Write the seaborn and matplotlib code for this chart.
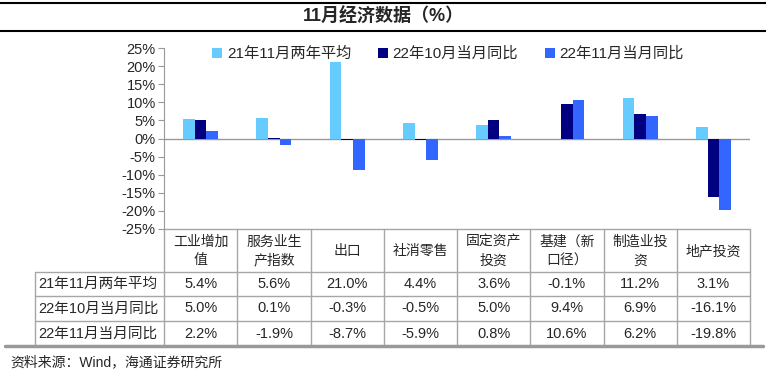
import numpy as np
import pandas as pd
import matplotlib
matplotlib.use("Agg")
import matplotlib.pyplot as plt
import seaborn as sns
from matplotlib.ticker import FuncFormatter, MultipleLocator

# data
categories = ["工业增加值", "服务业生产指数", "出口", "社消零售", "固定资产投资",
              "基建（新口径）", "制造业投资", "地产投资"]
header_labels = ["工业增加\n值", "服务业生\n产指数", "出口", "社消零售", "固定资产\n投资",
                 "基建（新\n口径）", "制造业投\n资", "地产投资"]
series_names = ["21年11月两年平均", "22年10月当月同比", "22年11月当月同比"]
avg_2y_2111 = [5.4, 5.6, 21.0, 4.4, 3.6, -0.1, 11.2, 3.1]
yoy_2210 = [5.0, 0.1, -0.3, -0.5, 5.0, 9.4, 6.9, -16.1]
yoy_2211 = [2.2, -1.9, -8.7, -5.9, 0.8, 10.6, 6.2, -19.8]
colors = ["#66CCFF", "#000080", "#3366FF"]

series_values = [avg_2y_2111, yoy_2210, yoy_2211]
df = pd.DataFrame({
    "cat": categories * 3,
    "series": [s for s in series_names for _ in categories],
    "value": avg_2y_2111 + yoy_2210 + yoy_2211,
})

sns.set_style("white")
plt.rcParams["font.family"] = ["Liberation Sans", "Noto Sans CJK SC"]

W, H = 766, 373
fig = plt.figure(figsize=(W / 100, H / 100), dpi=100)


def px(x0, y0, x1, y1):
    return [x0 / W, 1 - y1 / H, (x1 - x0) / W, (y1 - y0) / H]


# overlay for title, table and source text (pixel coordinates)
tab = fig.add_axes([0, 0, 1, 1])
tab.set_xlim(0, W)
tab.set_ylim(H, 0)
tab.axis("off")

ax = fig.add_axes(px(164, 48, 750, 229))
sns.barplot(data=df, x="cat", y="value", hue="series", palette=colors,
            width=0.48, saturation=1, linewidth=0, ax=ax)
ax.set_xlim(-0.5, len(categories) - 0.5)
ax.set_ylim(-25, 25)
ax.yaxis.set_major_locator(MultipleLocator(5))
ax.yaxis.set_major_formatter(FuncFormatter(lambda v, p: f"{int(round(v))}%"))
ax.axhline(0, color="#999999", lw=1, zorder=0)
ax.set_xticks([])
ax.set_xlabel("")
ax.set_ylabel("")
ax.patch.set_alpha(0)
for s in ["top", "right", "bottom"]:
    ax.spines[s].set_visible(False)
ax.spines["left"].set_color("#999999")
ax.tick_params(axis="y", left=True, length=4, color="#999999", labelsize=10.5, pad=2)

ax.legend(ncol=3, loc="upper center", bbox_to_anchor=(448 / W, 1 - 33 / H),
          bbox_transform=fig.transFigure, frameon=False, fontsize=11,
          handlelength=0.65, handleheight=0.65, handletextpad=0.3, columnspacing=1.75)

# title band
tab.plot([0, W], [3, 3], color="black", lw=1.5)
tab.plot([0, W], [31, 31], color="black", lw=1.5)
tab.text(W / 2, 17, "11月经济数据（%）", ha="center", va="center",
         fontsize=13, fontweight="bold")

# table grid
grid_c = "#A6A6A6"
col_edges = np.linspace(164, 750, len(categories) + 1)
row_lines = [272, 296, 321]
row_mid = [284, 308.5, 333.5]
for x in col_edges:
    tab.plot([x, x], [229, 346], color=grid_c, lw=1)
tab.plot([35, 35], [272, 346], color=grid_c, lw=1)
tab.plot([164, 750], [229, 229], color=grid_c, lw=1)
for y in row_lines:
    tab.plot([35, 750], [y, y], color=grid_c, lw=1)
tab.plot([5, 763], [346, 346], color="#999999", lw=2.5)

centers = (col_edges[:-1] + col_edges[1:]) / 2
for xc, lab in zip(centers, header_labels):
    tab.text(xc, 251, lab, ha="center", va="center", fontsize=10,
             linespacing=1.45)
for ym, name, vals in zip(row_mid, series_names, series_values):
    tab.text(98, ym, name, ha="center", va="center", fontsize=10.5)
    for xc, v in zip(centers, vals):
        tab.text(xc, ym, f"{v:.1f}%", ha="center", va="center", fontsize=10.5)

tab.text(10, 362, "资料来源：Wind，海通证券研究所", ha="left", va="center", fontsize=10)

fig.savefig("out.png", dpi=100)
